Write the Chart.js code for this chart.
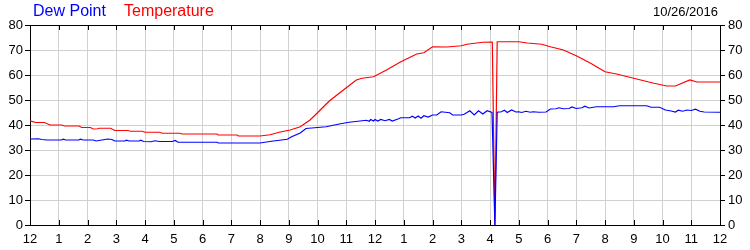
<!DOCTYPE html>
<html>
<head>
<meta charset="utf-8">
<script src="https://cdn.jsdelivr.net/npm/chart.js@4/dist/chart.umd.min.js"></script>
<style>
  html, body { margin: 0; padding: 0; background: #fff; }
  #wrap { width: 750px; height: 250px; }
</style>
</head>
<body>
<div id="wrap"><canvas id="chart" width="750" height="250"></canvas></div>
<script>
// hour of day (0 = midnight) and readings
const hourLabels = ["12", "1", "2", "3", "4", "5", "6", "7", "8", "9", "10", "11",
                    "12", "1", "2", "3", "4", "5", "6", "7", "8", "9", "10", "11", "12"];
const yTicks = [0, 10, 20, 30, 40, 50, 60, 70, 80];

const tempHours = [0, 0.2, 0.5, 0.7, 1.1, 1.2, 1.7, 1.8, 2.1, 2.2, 2.35, 2.4, 2.8, 2.95, 3.4, 3.5, 3.9,
    4.0, 4.5, 4.6, 5.2, 5.3, 6.5, 6.55, 7.2, 7.25, 8.0, 8.35, 8.7, 9.05, 9.4, 9.74, 10.0, 10.4,
    10.9, 11.35, 11.55, 11.95, 12.4, 12.9, 13.45, 13.7, 14.0, 14.5, 15.0, 15.2, 15.75, 16.08,
    16.17, 16.25, 17.0, 17.3, 17.8, 18.1, 18.55, 19.0, 19.5, 20.0, 20.4, 21.0, 21.7, 22.15,
    22.45, 22.95, 23.2, 24.0];
const tempValues = [41.7, 41.0, 41.0, 40.0, 40.0, 39.6, 39.6, 39.0, 39.0, 38.4, 38.5, 38.7, 38.7, 37.8, 37.8, 37.5, 37.5,
    37.1, 37.1, 36.7, 36.7, 36.4, 36.4, 36.0, 36.0, 35.6, 35.6, 36.1, 37.2, 38.0, 39.3, 42.0, 44.9, 49.5,
    54.0, 58.0, 58.7, 59.3, 62.0, 65.3, 68.4, 68.9, 71.3, 71.2, 71.7, 72.3, 73.1, 73.2,
    0, 73.3, 73.3, 72.8, 72.3, 71.3, 70.0, 67.7, 64.7, 61.3, 60.4, 58.7, 56.7, 55.6,
    55.6, 58.0, 57.2, 57.2];

const dewHours = [0, 0.3, 0.4, 0.6, 1.1, 1.15, 1.25, 1.7, 1.75, 1.85, 2.2, 2.3, 2.45, 2.7, 2.85, 2.95,
    3.3, 3.35, 3.45, 3.8, 3.85, 3.95, 4.2, 4.35, 4.5, 4.95, 5.05, 5.15, 6.5, 6.55, 8.0, 8.4,
    8.95, 9.1, 9.4, 9.6, 10.0, 10.3, 10.8, 11.1, 11.7, 11.8, 11.85, 11.95, 12.0, 12.1, 12.2,
    12.35, 12.5, 12.6, 12.8, 12.9, 13.2, 13.3, 13.4, 13.5, 13.6, 13.7, 13.85, 14.0, 14.15,
    14.3, 14.6, 14.7, 15.0, 15.1, 15.3, 15.45, 15.6, 15.75, 15.9, 16.07, 16.17, 16.25, 16.4,
    16.5, 16.6, 16.75, 16.9, 17.0, 17.1, 17.25, 17.4, 17.5, 17.7, 17.95, 18.1, 18.3, 18.4,
    18.55, 18.75, 18.85, 19.0, 19.2, 19.3, 19.45, 19.7, 20.3, 20.5, 21.45, 21.6, 21.9, 22.1,
    22.3, 22.45, 22.55, 22.7, 22.85, 23.0, 23.15, 23.3, 23.45, 24.0];
const dewValues = [34.4, 34.5, 34.2, 34.0, 34.0, 34.3, 34.0, 34.0, 34.3, 34.0, 34.0, 33.6, 33.9, 34.4, 34.2, 33.6,
    33.6, 33.9, 33.6, 33.6, 33.9, 33.4, 33.3, 33.7, 33.4, 33.4, 33.8, 33.1, 33.1, 32.8, 32.8, 33.5,
    34.3, 35.3, 36.8, 38.6, 39.0, 39.3, 40.5, 41.1, 41.9, 41.5, 42.2, 41.6, 42.2, 41.6, 42.2,
    41.7, 42.2, 41.6, 42.4, 42.9, 42.9, 43.5, 42.8, 43.6, 42.7, 43.7, 43.2, 44.0, 44.0,
    45.3, 44.9, 44.0, 44.0, 44.3, 45.7, 44.0, 45.7, 44.4, 45.7, 45.0, 0, 45.1, 45.3,
    45.9, 45.0, 46.0, 45.2, 45.3, 45.0, 45.5, 45.1, 45.3, 45.1, 45.2, 46.4, 46.5, 46.9,
    46.5, 46.6, 47.2, 46.6, 46.9, 47.5, 46.8, 47.3, 47.3, 47.7, 47.7, 47.1, 47.1, 46.0,
    45.6, 45.2, 45.9, 45.5, 46.0, 45.8, 46.3, 45.5, 45.2, 45.1];

const DEW_COLOR = "#0000ff";
const TEMP_COLOR = "#ff0000";
const GRID_COLOR = "#d0d0d0";

Chart.defaults.font.family = "'Liberation Sans', Arial, sans-serif";
Chart.defaults.font.size = 13;
Chart.defaults.color = "#000";

function toPoints(xs, ys) {
    return xs.map((h, i) => ({ x: h, y: ys[i] }));
}

// header texts + the inward tick marks on top and bottom edges
const frameExtras = {
    id: "frameExtras",
    afterDraw(chart) {
        const { ctx, chartArea: { left, right, top, bottom } } = chart;
        const xScale = chart.scales.x;
        ctx.save();
        ctx.strokeStyle = "#000";
        ctx.lineWidth = 1;
        ctx.beginPath();
        ctx.moveTo(left, top + 0.5);
        ctx.lineTo(right, top + 0.5);
        for (let h = 0; h <= 24; h++) {
            const px = Math.round(xScale.getPixelForValue(h)) + 0.5;
            ctx.moveTo(px, top);
            ctx.lineTo(px, top + 5);
            ctx.moveTo(px, bottom);
            ctx.lineTo(px, bottom - 5);
        }
        ctx.stroke();

        ctx.textBaseline = "middle";
        ctx.font = "16px 'Liberation Sans', Arial, sans-serif";
        ctx.textAlign = "left";
        ctx.fillStyle = DEW_COLOR;
        ctx.fillText("Dew Point", 33, 12);
        ctx.fillStyle = TEMP_COLOR;
        ctx.fillText("Temperature", 124, 12);
        ctx.font = "13px 'Liberation Sans', Arial, sans-serif";
        ctx.fillStyle = "#000";
        ctx.textAlign = "right";
        ctx.fillText("10/26/2016", 718, 12);
        ctx.restore();
    }
};

const yAxisCommon = {
    type: "linear",
    min: 0,
    max: 80,
    afterBuildTicks: s => { s.ticks = yTicks.map(v => ({ value: v })); },
    afterFit: s => { s.width = 30; },
    border: { color: "#000", width: 1 },
    ticks: { padding: 2, font: { size: 13 } }
};

new Chart(document.getElementById("chart"), {
    type: "line",
    data: {
        datasets: [
            {
                label: "Dew Point",
                data: toPoints(dewHours, dewValues),
                borderColor: DEW_COLOR,
                borderWidth: 1.2,
                pointRadius: 0,
                tension: 0
            },
            {
                label: "Temperature",
                data: toPoints(tempHours, tempValues),
                borderColor: TEMP_COLOR,
                borderWidth: 1.2,
                pointRadius: 0,
                tension: 0
            }
        ]
    },
    options: {
        responsive: false,
        animation: false,
        layout: { padding: { top: 25, left: 0, right: 0, bottom: 0 } },
        plugins: {
            legend: { display: false },
            tooltip: { enabled: false }
        },
        scales: {
            x: {
                type: "linear",
                min: 0,
                max: 24,
                afterBuildTicks: s => { s.ticks = hourLabels.map((_, i) => ({ value: i })); },
                afterFit: s => { s.height = 25; },
                grid: { color: GRID_COLOR, drawTicks: false },
                border: { color: "#000", width: 1 },
                ticks: {
                    padding: 7,
                    maxRotation: 0,
                    autoSkip: false,
                    callback: (v) => hourLabels[v]
                }
            },
            y: Object.assign({}, yAxisCommon, {
                position: "left",
                grid: { color: GRID_COLOR, tickColor: "#000", tickLength: 5 }
            }),
            y2: Object.assign({}, yAxisCommon, {
                position: "right",
                grid: { drawOnChartArea: false, tickColor: "#000", tickLength: 5 },
                ticks: { padding: 3, font: { size: 13 } }
            })
        }
    },
    plugins: [frameExtras]
});
</script>
</body>
</html>
